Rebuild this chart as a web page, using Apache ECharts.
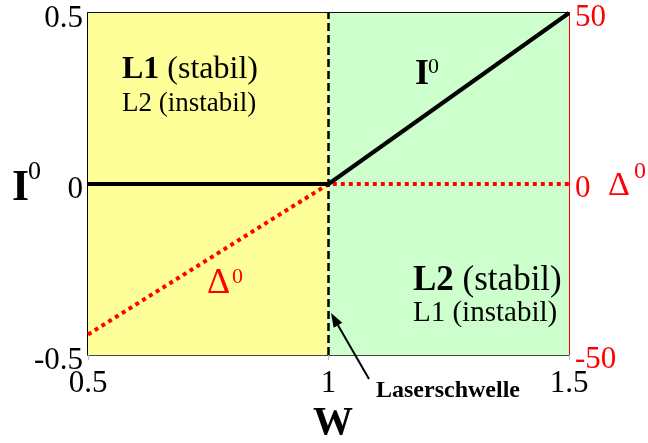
<!DOCTYPE html>
<html>
<head>
<meta charset="utf-8">
<script src="https://cdn.jsdelivr.net/npm/echarts@6/dist/echarts.min.js"></script>
<style>
  html, body { margin: 0; padding: 0; background: #fff; }
  #chart { width: 648px; height: 443px; }
</style>
</head>
<body>
<div id="chart"></div>
<script>
// Pump parameter W and the two steady-state quantities
const pumpW = [0.5, 1.0, 1.5];
const intensityI0 = [0, 0, 0.5];     // I⁰, left axis
const detuningD0 = [-44, 0, 0];      // Δ⁰, right axis
const laserThreshold = 1.0;
const xTicks = { min: 0.5, max: 1.5, step: 0.5 };
const leftTicks = { min: -0.5, max: 0.5, step: 0.5 };
const rightTicks = { min: -50, max: 50, step: 50 };

const FONT = '"Liberation Serif", "Times New Roman", serif';
const chart = echarts.init(document.getElementById('chart'));

const GRID = { left: 88, right: 79, top: 13, bottom: 88 };

function textEl(x, y, text, size, opts) {
  opts = opts || {};
  return {
    type: 'text', z: 100,
    style: {
      x: x, y: y, text: text,
      fontFamily: FONT, fontSize: size,
      fontWeight: opts.bold ? 'bold' : 'normal',
      fill: opts.color || '#000',
      align: opts.align || 'left', verticalAlign: 'middle',
      rich: opts.rich
    }
  };
}

function arrow(x1, y1, x2, y2, headLen, halfW) {
  const dx = x2 - x1, dy = y2 - y1, len = Math.hypot(dx, dy);
  const ux = dx / len, uy = dy / len;
  const bx = x2 - ux * headLen, by = y2 - uy * headLen;
  const px = -uy * halfW, py = ux * halfW;
  return [
    { type: 'line', z: 100, shape: { x1: x1, y1: y1, x2: bx, y2: by },
      style: { stroke: '#000', lineWidth: 2 } },
    { type: 'polygon', z: 100,
      shape: { points: [[x2, y2], [bx + px, by + py], [bx - px, by - py]] },
      style: { fill: '#000' } }
  ];
}

function richLabel(boldPart, rest, size) {
  return {
    text: '{b|' + boldPart + '}{r| ' + rest + '}',
    rich: {
      b: { fontFamily: FONT, fontSize: size, fontWeight: 'bold', fill: '#000' },
      r: { fontFamily: FONT, fontSize: size, fill: '#000' }
    }
  };
}

const l1s = richLabel('L1', '(stabil)', 32);
const l2s = richLabel('L2', '(stabil)', 35);

const option = {
  animation: false,
  backgroundColor: '#fff',
  grid: GRID,
  xAxis: [{
    type: 'value', min: xTicks.min, max: xTicks.max, interval: xTicks.step,
    axisLine: { show: true, onZero: false, lineStyle: { color: '#444', width: 2 } },
    axisTick: { show: true, length: 5, lineStyle: { color: '#bbb' } },
    splitLine: { show: false },
    axisLabel: { fontFamily: FONT, fontSize: 31, color: '#000', margin: 13 }
  }, {
    type: 'value', position: 'top', min: xTicks.min, max: xTicks.max,
    axisLine: { show: true, onZero: false, lineStyle: { color: '#111', width: 2 } },
    axisTick: { show: false }, axisLabel: { show: false }, splitLine: { show: false }
  }],
  yAxis: [{
    type: 'value', position: 'left',
    min: leftTicks.min, max: leftTicks.max, interval: leftTicks.step,
    axisLine: { show: true, onZero: false, lineStyle: { color: '#000', width: 2 } },
    axisTick: { show: false }, splitLine: { show: false },
    axisLabel: { fontFamily: FONT, fontSize: 31, color: '#000', margin: 5,
                 verticalAlign: 'top', lineHeight: 12 }
  }, {
    type: 'value', position: 'right',
    min: rightTicks.min, max: rightTicks.max, interval: rightTicks.step,
    axisLine: { show: true, onZero: false, lineStyle: { color: '#ff0000', width: 2 } },
    axisTick: { show: false }, splitLine: { show: false },
    axisLabel: { fontFamily: FONT, fontSize: 31, color: '#ff0000', margin: 6,
                 verticalAlign: 'top', lineHeight: 10 }
  }],
  series: [{
    name: 'Δ0', type: 'line', xAxisIndex: 0, yAxisIndex: 1,
    data: pumpW.map((w, i) => [w, detuningD0[i]]),
    showSymbol: false, symbol: 'none', z: 3,
    lineStyle: { color: '#ff0000', width: 4, type: [4, 4], cap: 'butt' },
    markArea: {
      silent: true,
      data: [
        [{ xAxis: xTicks.min, itemStyle: { color: '#ffff99' } }, { xAxis: laserThreshold }],
        [{ xAxis: laserThreshold, itemStyle: { color: '#ccffcc' } }, { xAxis: xTicks.max }]
      ]
    }
  }, {
    name: 'I0', type: 'line', xAxisIndex: 0, yAxisIndex: 0,
    data: pumpW.map((w, i) => [w, intensityI0[i]]),
    showSymbol: false, symbol: 'none', z: 4,
    lineStyle: { color: '#000', width: 4 },
    markLine: {
      silent: true, symbol: 'none', label: { show: false },
      lineStyle: { color: '#000', width: 2.5, type: [8, 4] },
      data: [{ xAxis: laserThreshold }]
    }
  }],
  graphic: [
    // axis titles
    textEl(12, 189, 'I', 44, { bold: true }),
    textEl(28, 172, '0', 26),
    textEl(608, 186, 'Δ', 34, { color: '#ff0000' }),
    textEl(634, 172, '0', 24, { color: '#ff0000' }),
    textEl(333, 424, 'W', 40, { bold: true, align: 'center' }),
    // region labels
    textEl(122, 70, l1s.text, 32, { rich: l1s.rich }),
    textEl(122, 104, 'L2 (instabil)', 27),
    textEl(413, 281, l2s.text, 35, { rich: l2s.rich }),
    textEl(413, 313, 'L1 (instabil)', 29),
    // curve labels
    textEl(415, 75, 'I', 36, { bold: true }),
    textEl(428, 67, '0', 22),
    textEl(207, 284, 'Δ', 36, { color: '#ff0000' }),
    textEl(232, 277, '0', 22, { color: '#ff0000' }),
    // threshold marker
    textEl(376, 391, 'Laserschwelle', 24, { bold: true })
  ].concat(arrow(369, 379, 331, 313, 14, 5))
};

chart.setOption(option);
</script>
</body>
</html>
